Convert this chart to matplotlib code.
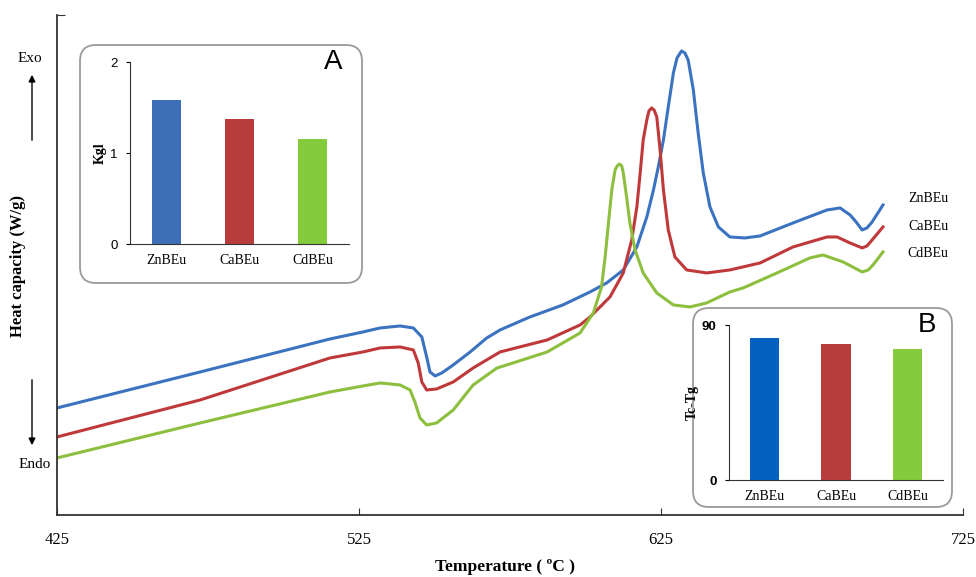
import matplotlib.pyplot as plt
from matplotlib.patches import FancyBboxPatch

# DSC curves (temperature in C, heat capacity in arbitrary units)
temp_zn = [425.0, 472.4, 515.4, 526.3, 532.0, 538.6, 543.0, 545.8, 547.4, 548.5, 550.2, 552.4,
           556.2, 561.8, 567.3, 571.7, 581.6, 592.5, 601.5, 607.0, 612.5, 617.0, 620.3, 622.5,
           624.1, 625.8, 627.4, 629.1, 630.3, 631.8, 632.9, 634.0, 635.7, 637.3, 639.0, 641.2,
           644.0, 647.8, 652.8, 657.8, 668.7, 680.0, 684.3, 687.6, 689.6, 691.6, 693.2, 694.9,
           698.5]
cp_zn = [1.07, 1.43, 1.76, 1.83, 1.87, 1.89, 1.87, 1.78, 1.58, 1.43, 1.39, 1.42,
         1.50, 1.63, 1.77, 1.85, 1.98, 2.10, 2.23, 2.32, 2.45, 2.68, 2.98, 3.25,
         3.48, 3.75, 4.08, 4.42, 4.57, 4.64, 4.62, 4.55, 4.25, 3.82, 3.42, 3.08,
         2.88, 2.78, 2.77, 2.79, 2.92, 3.05, 3.07, 3.00, 2.93, 2.85, 2.87, 2.93,
         3.10]

temp_ca = [425.0, 472.4, 515.4, 526.3, 532.0, 538.6, 543.0, 544.6, 545.8, 547.4, 550.7, 556.2,
           562.8, 571.7, 587.3, 598.2, 601.5, 608.1, 612.5, 615.3, 617.0, 618.1, 619.1, 620.3,
           621.0, 621.9, 622.7, 623.6, 624.7, 625.8, 627.4, 629.6, 633.5, 640.1, 647.8, 657.8,
           668.7, 680.0, 683.3, 687.6, 691.6, 693.2, 694.9, 698.5]
cp_ca = [0.78, 1.15, 1.57, 1.63, 1.67, 1.68, 1.65, 1.52, 1.33, 1.25, 1.26, 1.33,
         1.47, 1.63, 1.75, 1.90, 1.98, 2.18, 2.42, 2.75, 3.08, 3.42, 3.75, 3.95,
         4.04, 4.07, 4.05, 3.98, 3.65, 3.25, 2.85, 2.58, 2.45, 2.42, 2.45, 2.52,
         2.68, 2.78, 2.78, 2.72, 2.67, 2.69, 2.75, 2.88]

temp_cd = [425.0, 472.4, 515.4, 526.3, 532.0, 538.6, 541.9, 543.5, 545.2, 547.4, 550.7, 556.2,
           562.8, 570.7, 576.0, 587.3, 598.2, 602.6, 605.3, 606.5, 607.6, 608.7, 609.8, 610.5,
           611.2, 612.0, 612.5, 613.6, 614.7, 616.4, 619.1, 623.6, 629.1, 634.6, 640.1, 647.8,
           652.2, 663.4, 674.3, 678.6, 685.3, 691.6, 693.6, 695.2, 698.5]
cp_cd = [0.57, 0.92, 1.23, 1.29, 1.32, 1.30, 1.25, 1.13, 0.97, 0.90, 0.92, 1.05,
         1.30, 1.47, 1.52, 1.63, 1.82, 2.02, 2.28, 2.58, 2.92, 3.25, 3.45, 3.49,
         3.51, 3.49, 3.42, 3.18, 2.92, 2.65, 2.42, 2.22, 2.10, 2.08, 2.12, 2.23,
         2.27, 2.42, 2.57, 2.60, 2.53, 2.43, 2.45, 2.50, 2.63]

samples = ["ZnBEu", "CaBEu", "CdBEu"]
kgl = [1.58, 1.37, 1.15]
tc_tg = [82.5, 79, 76]
x_ticks = [425, 525, 625, 725]

serif = "Liberation Serif"
sans = "Liberation Sans"

fig = plt.figure(figsize=(9.76, 5.77), dpi=100)

ax = fig.add_axes([0.0584, 0.1075, 0.9283, 0.8666], zorder=0)
ax.plot(temp_zn, cp_zn, color="#3b73c0", lw=2.2, solid_joinstyle="round")
ax.plot(temp_ca, cp_ca, color="#c0393a", lw=2.2, solid_joinstyle="round")
ax.plot(temp_cd, cp_cd, color="#8dbf3f", lw=2.2, solid_joinstyle="round")
ax.set_xlim(425, 725)
ax.set_ylim(0, 5)
ax.spines["top"].set_visible(False)
ax.spines["right"].set_visible(False)
for s in ["left", "bottom"]:
    ax.spines[s].set_color("#333333")
    ax.spines[s].set_linewidth(1.3)
ax.set_xticks(x_ticks)
ax.set_xticklabels([str(t) for t in x_ticks], fontfamily=serif, fontsize=12)
ax.tick_params(axis="x", direction="in", length=5, pad=12, color="#333333")
ax.set_yticks([5])
ax.set_yticklabels([""])
ax.tick_params(axis="y", direction="in", length=6, color="#333333")

# curve labels
for name, yv in zip(samples, [198, 226, 253]):
    fig.text(928 / 976, 1 - yv / 577, name, fontfamily=serif, fontsize=10,
             ha="center", va="center")

fig.text(505 / 976, 1 - 567 / 577, "Temperature ( ºC )", fontfamily=serif,
         fontweight="bold", fontsize=12.5, ha="center", va="center")
fig.text(18 / 976, 1 - 266 / 577, "Heat capacity (W/g)", fontfamily=serif,
         fontweight="bold", fontsize=12, ha="center", va="center", rotation=90)

# Exo / Endo
fig.text(30 / 976, 1 - 58 / 577, "Exo", fontfamily=serif, fontsize=11,
         ha="center", va="center")
fig.text(35 / 976, 1 - 465 / 577, "Endo", fontfamily=serif, fontsize=11,
         ha="center", va="center")
ax.annotate("", xy=(32, 577 - 72), xytext=(32, 577 - 143), xycoords="figure pixels",
            textcoords="figure pixels",
            arrowprops=dict(arrowstyle="-|>", color="black", lw=1, mutation_scale=10))
ax.annotate("", xy=(32, 577 - 448), xytext=(32, 577 - 377), xycoords="figure pixels",
            textcoords="figure pixels",
            arrowprops=dict(arrowstyle="-|>", color="black", lw=1, mutation_scale=10))


def inset_box(x0, y0, x1, y1):
    # pixel corners (top-left origin) -> inches
    box = FancyBboxPatch((x0 / 100, (577 - y1) / 100), (x1 - x0) / 100, (y1 - y0) / 100,
                         boxstyle="round,pad=0,rounding_size=0.16",
                         transform=fig.dpi_scale_trans, facecolor="white",
                         edgecolor="#9a9a9a", lw=1.3, zorder=1)
    fig.patches.append(box)


def inset_bars(rect, values, colors, ymax, yticks, ylabel, letter, tickweight):
    a = fig.add_axes(rect, zorder=2)
    a.patch.set_alpha(0)
    a.bar([0.5, 1.5, 2.5], values, width=0.41, color=colors)
    a.set_xlim(0, 3)
    a.set_ylim(0, ymax)
    a.spines["top"].set_visible(False)
    a.spines["right"].set_visible(False)
    a.spines["left"].set_color("#333333")
    a.spines["bottom"].set_color("#333333")
    a.set_xticks([0.5, 1.5, 2.5])
    a.set_xticklabels(samples, fontfamily=serif, fontsize=10)
    a.tick_params(axis="x", length=0, pad=7)
    a.set_yticks(yticks)
    a.set_yticklabels([str(t) for t in yticks], fontfamily=sans, fontsize=9.5,
                      fontweight=tickweight)
    a.tick_params(axis="y", length=3, pad=6)
    a.set_ylabel(ylabel, fontfamily=serif, fontweight="bold", fontsize=10, labelpad=2)
    a.text(0.97, 1.0, letter, transform=a.transAxes, fontfamily=sans, fontsize=20,
           ha="right", va="center")
    return a


inset_box(80, 45, 362, 283)
inset_bars([0.1332, 0.5771, 0.2244, 0.3154], kgl, ["#3d6fb6", "#b93c3c", "#84cc3c"],
           2, [0, 1, 2], "Kgl", "A", "normal")

inset_box(693, 308, 952, 507)
inset_bars([0.7469, 0.1681, 0.2193, 0.2686], tc_tg, ["#0561c0", "#b93c3c", "#84cc3c"],
           90, [0, 90], "Tc-Tg", "B", "bold")

fig.savefig("out.png", dpi=100)
